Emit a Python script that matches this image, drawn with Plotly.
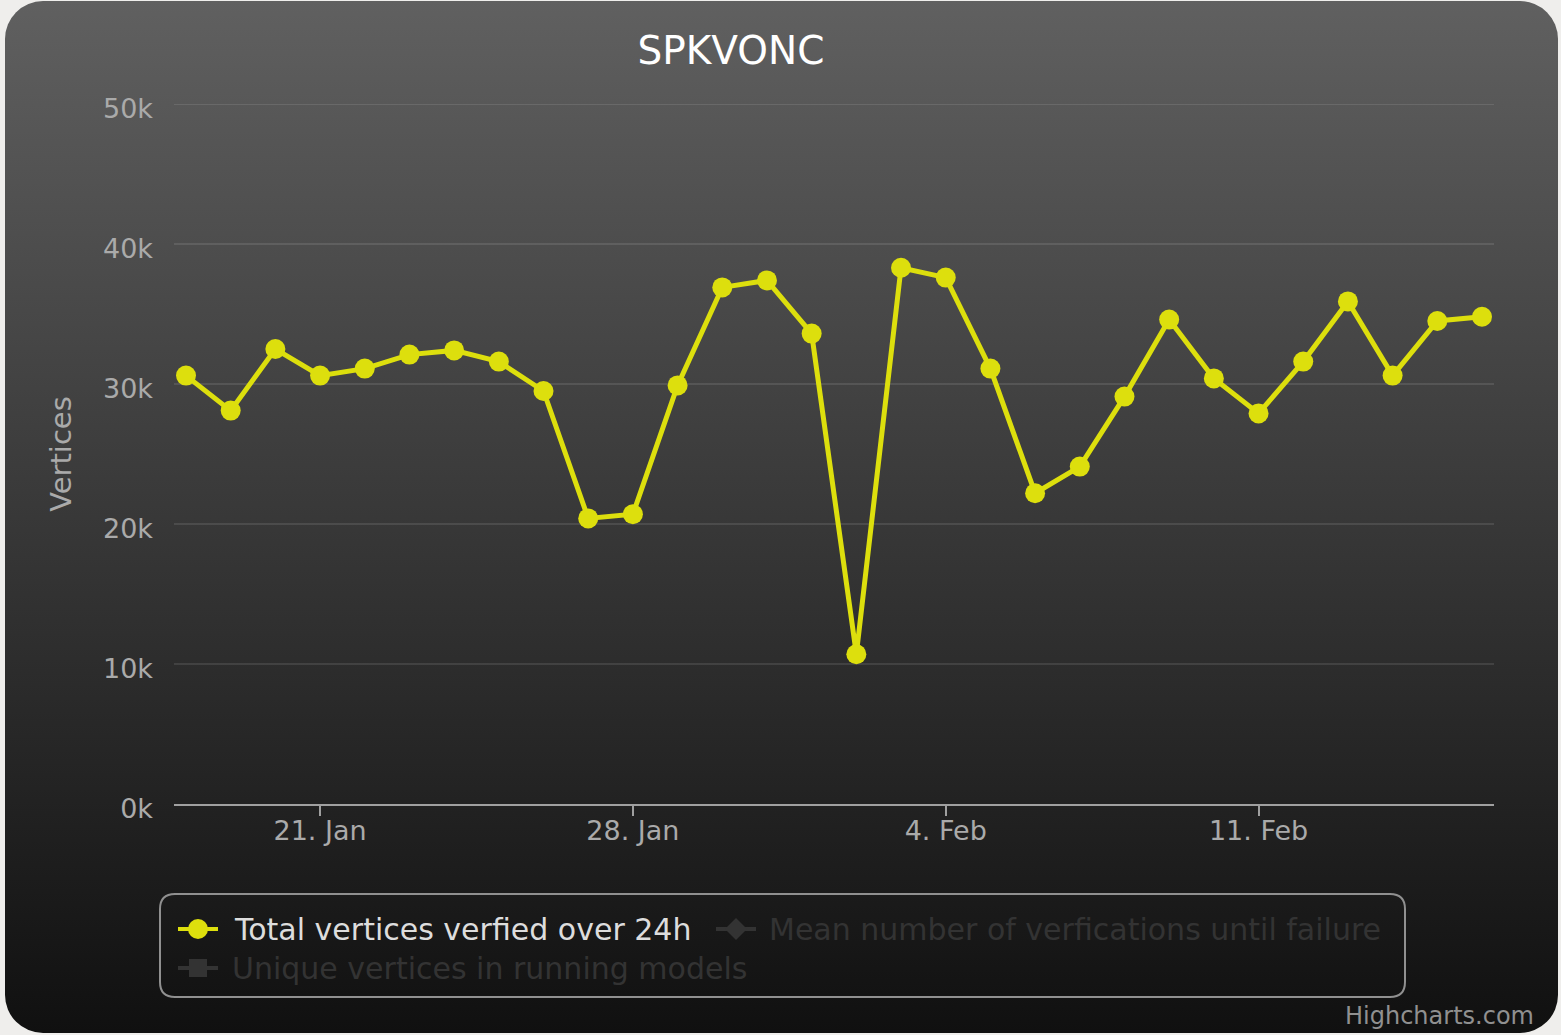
import base64
import datetime as dt
import plotly.graph_objects as go

# ---------------- data ----------------
dates = ["2013-01-18", "2013-01-19", "2013-01-20", "2013-01-21", "2013-01-22",
         "2013-01-23", "2013-01-24", "2013-01-25", "2013-01-26", "2013-01-27",
         "2013-01-28", "2013-01-29", "2013-01-30", "2013-01-31", "2013-02-01",
         "2013-02-02", "2013-02-03", "2013-02-04", "2013-02-05", "2013-02-06",
         "2013-02-07", "2013-02-08", "2013-02-09", "2013-02-10", "2013-02-11",
         "2013-02-12", "2013-02-13", "2013-02-14", "2013-02-15", "2013-02-16"]
total_vertices = [30600, 28100, 32500, 30600, 31100, 32100, 32400, 31600, 29500, 20400,
                  20700, 29900, 36900, 37400, 33600, 10700, 38300, 37600, 31100, 22200,
                  24100, 29100, 34600, 30400, 27900, 31600, 35900, 30600, 34500, 34800]
x_tick_vals = ["2013-01-21", "2013-01-28", "2013-02-04", "2013-02-11"]
x_tick_text = ["21. Jan", "28. Jan", "4. Feb", "11. Feb"]
y_tick_vals = [0, 10000, 20000, 30000, 40000, 50000]
y_tick_text = ["0k", "10k", "20k", "30k", "40k", "50k"]
series_names = ["Total vertices verfied over 24h",
                "Mean number of verfications until failure",
                "Unique vertices in running models"]
chart_title = "SPKVONC"
y_title = "Vertices"
credit = "Highcharts.com"

# ---------------- geometry ----------------
W, H = 1561, 1035
L, R, T, B = 174, 1494, 104, 804
FONT = "DejaVu Sans"
YELLOW = "#DDDF0D"
HIDDEN = "#333333"


def px(x):
    return (x - L) / (R - L)


def py(y):
    return (B - y) / (B - T)


# background gradient with rounded corners (svg image)
svg = (
    f'<svg xmlns="http://www.w3.org/2000/svg" width="{W}" height="{H}" viewBox="0 0 {W} {H}">'
    '<defs><linearGradient id="g" x1="0" y1="0" x2="0" y2="1">'
    '<stop offset="0" stop-color="rgb(96,96,96)"/>'
    '<stop offset="1" stop-color="rgb(16,16,16)"/>'
    '</linearGradient></defs>'
    '<rect x="5" y="1" width="1553" height="1032" rx="38" ry="38" fill="url(#g)"/>'
    '</svg>'
)
bg_src = "data:image/svg+xml;base64," + base64.b64encode(svg.encode()).decode()

fig = go.Figure()
fig.add_trace(go.Scatter(
    x=dates, y=total_vertices, mode="lines+markers", name=series_names[0],
    line=dict(color=YELLOW, width=5),
    marker=dict(color=YELLOW, size=20, line=dict(width=0)),
    showlegend=False,
))

# date range: points map 18 Jan -> px 186, 16 Feb -> px 1482
d0 = dt.datetime(2013, 1, 18)
d1 = dt.datetime(2013, 2, 16)
ppd = (1482 - 186) / 29.0
xr0 = d0 - dt.timedelta(days=(186 - L) / ppd)
xr1 = d1 + dt.timedelta(days=(R - 1482) / ppd)

shapes = []

# top gridline (plotly drops gridlines on the plot edge)
shapes.append(dict(type="line", xref="paper", yref="y", x0=0, x1=1,
                   y0=y_tick_vals[-1], y1=y_tick_vals[-1], layer="below",
                   line=dict(color="rgba(255,255,255,0.1)", width=2)))


def rrect_path(x0, y0, x1, y1, r):
    pts = [
        ("M", [(x0 + r, y0)]), ("L", [(x1 - r, y0)]), ("Q", [(x1, y0), (x1, y0 + r)]),
        ("L", [(x1, y1 - r)]), ("Q", [(x1, y1), (x1 - r, y1)]),
        ("L", [(x0 + r, y1)]), ("Q", [(x0, y1), (x0, y1 - r)]),
        ("L", [(x0, y0 + r)]), ("Q", [(x0, y0), (x0 + r, y0)]),
    ]
    s = ""
    for cmd, coords in pts:
        s += cmd + " " + " ".join(f"{px(a):.6f},{py(b):.6f}" for a, b in coords) + " "
    return s + "Z"


# legend box
shapes.append(dict(type="path", xref="paper", yref="paper",
                   path=rrect_path(160, 894, 1405, 997, 15),
                   line=dict(color="#909090", width=2), fillcolor="rgba(0,0,0,0)"))
# legend symbol 1
shapes.append(dict(type="line", xref="paper", yref="paper", x0=px(178), x1=px(218),
                   y0=py(929), y1=py(929), line=dict(color=YELLOW, width=4)))
shapes.append(dict(type="circle", xref="paper", yref="paper", x0=px(188), x1=px(208),
                   y0=py(919), y1=py(939), fillcolor=YELLOW, line=dict(width=0)))
# legend symbol 2 (diamond)
shapes.append(dict(type="line", xref="paper", yref="paper", x0=px(716), x1=px(756),
                   y0=py(929), y1=py(929), line=dict(color=HIDDEN, width=4)))
dpath = (f"M {px(736)},{py(918)} L {px(747)},{py(929)} L {px(736)},{py(940)} "
         f"L {px(725)},{py(929)} Z")
shapes.append(dict(type="path", xref="paper", yref="paper", path=dpath,
                   fillcolor=HIDDEN, line=dict(width=0)))
# legend symbol 3 (square)
shapes.append(dict(type="line", xref="paper", yref="paper", x0=px(178), x1=px(218),
                   y0=py(968), y1=py(968), line=dict(color=HIDDEN, width=4)))
shapes.append(dict(type="rect", xref="paper", yref="paper", x0=px(189), x1=px(207),
                   y0=py(959), y1=py(977), fillcolor=HIDDEN, line=dict(width=0)))

annotations = [
    dict(text=series_names[0], x=px(232), y=py(929), xref="paper", yref="paper",
         xanchor="left", yanchor="middle", showarrow=False,
         font=dict(family=FONT, size=30, color="#DDDDDD")),
    dict(text=series_names[1], x=px(767), y=py(929), xref="paper", yref="paper",
         xanchor="left", yanchor="middle", showarrow=False,
         font=dict(family=FONT, size=30, color=HIDDEN)),
    dict(text=series_names[2], x=px(230), y=py(968), xref="paper", yref="paper",
         xanchor="left", yanchor="middle", showarrow=False,
         font=dict(family=FONT, size=30, color=HIDDEN)),
    dict(text=credit, x=px(1536), y=py(1016), xref="paper", yref="paper",
         xanchor="right", yanchor="middle", showarrow=False,
         font=dict(family=FONT, size=24, color="#909090")),
]

fig.update_layout(
    width=W, height=H, autosize=False,
    margin=dict(l=L, r=W - R, t=T, b=H - B, pad=0),
    paper_bgcolor="#efeeec",
    plot_bgcolor="rgba(0,0,0,0)",
    font=dict(family=FONT, color="#aaaaaa"),
    title=dict(text=chart_title, x=731 / W, xref="container", xanchor="center",
               y=1 - 50 / H, yref="container", yanchor="middle",
               font=dict(family=FONT, size=39, color="#FFFFFF")),
    xaxis=dict(type="date", range=[xr0, xr1], showgrid=False, zeroline=False,
               showline=True, linecolor="#a0a0a0", linewidth=2,
               ticks="outside", ticklen=10, tickwidth=2, tickcolor="#a0a0a0",
               tickvals=x_tick_vals, ticktext=x_tick_text, ticklabelstandoff=-8,
               tickfont=dict(family=FONT, size=27, color="#aaaaaa")),
    yaxis=dict(range=[0, 50000], showgrid=True, gridcolor="rgba(255,255,255,0.1)",
               gridwidth=2, zeroline=False, showline=False, ticks="",
               tickvals=y_tick_vals, ticktext=y_tick_text, ticklabelstandoff=20,
               ticklabelshift=5,
               tickfont=dict(family=FONT, size=27, color="#aaaaaa")),
    shapes=shapes,
    annotations=annotations,
    images=[dict(source=bg_src, xref="paper", yref="paper", x=px(0), y=py(0),
                 sizex=W / (R - L), sizey=H / (B - T), xanchor="left", yanchor="top",
                 sizing="stretch", layer="below")],
)
fig.update_yaxes(title=dict(text=y_title, standoff=22,
                            font=dict(family=FONT, size=29, color="#aaaaaa")))

fig.write_html("out.html", config={"displayModeBar": False},
               post_script="document.body.style.margin='0';"
                           "document.body.style.overflow='hidden';")
